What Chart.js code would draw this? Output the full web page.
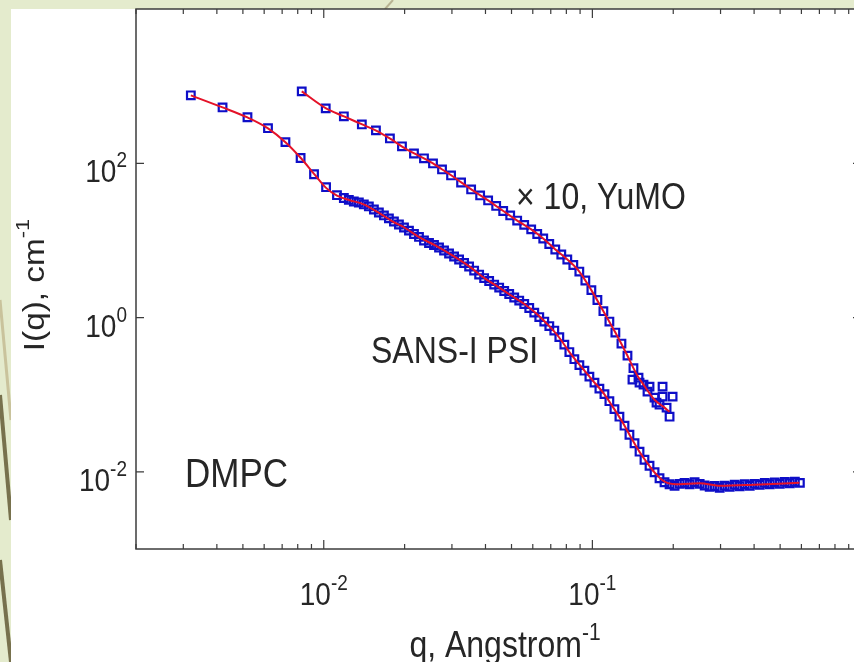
<!DOCTYPE html>
<html>
<head>
<meta charset="utf-8">
<script src="https://cdn.jsdelivr.net/npm/chart.js@4.4.0/dist/chart.umd.min.js"></script>
<style>
  html, body { margin: 0; padding: 0; }
  body { width: 854px; height: 662px; overflow: hidden; position: relative; background: #e4ebcd; }
  #deco { position: absolute; left: 0; top: 0; }
  #panel { position: absolute; left: 11px; top: 9px; width: 900px; height: 700px; background: #fff; }
  #wrap { position: absolute; left: 0; top: 0; width: 871px; height: 662px; }
</style>
</head>
<body>
<svg id="deco" width="854" height="662">
  <line x1="0" y1="300" x2="11" y2="420" stroke="#c9c39c" stroke-width="3"/>
  <line x1="0" y1="395" x2="11" y2="520" stroke="#77714d" stroke-width="4"/>
  <line x1="0" y1="560" x2="11" y2="662" stroke="#77714d" stroke-width="4"/>
  <line x1="393" y1="0" x2="385" y2="9" stroke="#b8b393" stroke-width="2"/>
</svg>
<div id="panel"></div>
<div id="wrap"><canvas id="chartCanvas" width="871" height="662"></canvas></div>
<script>
// SANS-I PSI data (q in 1/Angstrom, I in 1/cm)
var sansQ = [0.0032, 0.0042, 0.0052, 0.0062, 0.0072, 0.0082, 0.0092, 0.0102, 0.0112,
  0.01188, 0.0124, 0.01294, 0.01351, 0.0141, 0.01472, 0.01537, 0.01604, 0.01675, 0.01748,
  0.01825, 0.01905, 0.01989, 0.02076, 0.02167, 0.02262, 0.02361, 0.02465, 0.02573, 0.02686,
  0.02804, 0.02927, 0.03056, 0.0319, 0.0333, 0.03476, 0.03629, 0.03788, 0.03954, 0.04128,
  0.04309, 0.04498, 0.04696, 0.04902, 0.05117, 0.05342, 0.05576, 0.05821, 0.06077, 0.06343,
  0.06622, 0.06913, 0.07216, 0.07533, 0.07864, 0.08209, 0.08569, 0.08946, 0.09338, 0.09748,
  0.1018, 0.1062, 0.1109, 0.1157, 0.1208, 0.1261, 0.1317, 0.1374, 0.1435, 0.1498,
  0.1563, 0.1632, 0.1704, 0.1778, 0.1856, 0.1938, 0.2023, 0.2112, 0.2204, 0.2301,
  0.2402, 0.2508, 0.2618, 0.2733, 0.2853, 0.2978, 0.3109, 0.3245, 0.3388, 0.3536,
  0.3692, 0.3854, 0.4023, 0.4199, 0.4384, 0.4576, 0.4777, 0.4987, 0.5206, 0.5434,
  0.5673, 0.5922];
var sansI = [760, 530, 395, 285, 188, 117, 72, 49, 38.6,
  35.5, 33.5, 32.0, 31.0, 29.3, 27.6, 25.2, 23.0, 21.1, 19.3,
  17.6, 16.1, 14.7, 13.4, 12.1, 11.1, 9.98, 9.26, 8.72, 8.09,
  7.40, 6.77, 6.19, 5.66, 5.10, 4.59, 4.07, 3.61, 3.25, 2.98,
  2.68, 2.45, 2.21, 2.02, 1.82, 1.66, 1.50, 1.33, 1.16, 1.015,
  0.887, 0.776, 0.678, 0.558, 0.446, 0.357, 0.289, 0.242, 0.205, 0.1716,
  0.1434, 0.1199, 0.1017, 0.0825, 0.065, 0.0519, 0.0397, 0.0303, 0.0235, 0.01825,
  0.01437, 0.01201, 0.00989, 0.00827, 0.00734, 0.00690, 0.00660, 0.00700, 0.00720, 0.00690,
  0.00735, 0.00700, 0.00665, 0.00640, 0.00655, 0.00620, 0.00660, 0.00640, 0.00680, 0.00650,
  0.00690, 0.00660, 0.00700, 0.00680, 0.00720, 0.00690, 0.00730, 0.00700, 0.00740, 0.00710,
  0.00745, 0.00720];
var sansFitQ = [0.0032, 0.0042, 0.0052, 0.0062, 0.0072, 0.0082, 0.0092, 0.0102, 0.0112,
  0.0125, 0.014, 0.016, 0.018, 0.02, 0.023, 0.026, 0.03, 0.035, 0.04, 0.045, 0.05, 0.056,
  0.062, 0.068, 0.075, 0.082, 0.09, 0.1, 0.11, 0.12, 0.13, 0.14, 0.15, 0.16, 0.17, 0.18,
  0.19, 0.21, 0.25, 0.3, 0.4, 0.59];
var sansFitI = [760, 530, 393, 284, 188, 118, 73, 48, 38,
  33.2, 29.6, 22.9, 17.7, 14.6, 10.7, 8.6, 6.45, 4.55, 3.18, 2.45, 1.92, 1.49,
  1.12, 0.82, 0.56, 0.36, 0.24, 0.155, 0.105, 0.067, 0.043, 0.027, 0.018, 0.0131, 0.0099, 0.0081,
  0.0072, 0.0069, 0.0071, 0.0066, 0.0068, 0.0072];

// YuMO data, raw intensity (plotted x 10)
var yumoScale = 10;
var yumoQ = [0.00828, 0.01017, 0.01188, 0.01386, 0.01564, 0.01763, 0.01955, 0.02167, 0.02361, 0.02551,
  0.02756, 0.02978, 0.03245, 0.03537, 0.03821, 0.04092, 0.04384, 0.04656, 0.04944, 0.05249,
  0.05574, 0.05919, 0.06233, 0.06563, 0.0691, 0.07276, 0.07661, 0.08066, 0.08493, 0.08942,
  0.09415, 0.09915, 0.1044, 0.1099, 0.1157, 0.1218, 0.1283, 0.1351, 0.1422, 0.1485, 0.155,
  0.141, 0.1498, 0.1632, 0.1703, 0.1825, 0.1989, 0.1733, 0.1938, 0.1889, 0.1778, 0.1604, 0.1825];
var yumoI = [85.6, 51.5, 40.6, 31.9, 26.7, 21.0, 16.6, 13.4, 11.6, 9.96,
  8.32, 6.96, 5.64, 4.58, 3.83, 3.30, 2.80, 2.41, 2.11, 1.81,
  1.59, 1.39, 1.21, 1.06, 0.899, 0.763, 0.657, 0.566, 0.480, 0.395,
  0.302, 0.227, 0.169, 0.121, 0.0887, 0.0639, 0.0460, 0.0321, 0.0221, 0.01665, 0.01351,
  0.01568, 0.01434, 0.01272, 0.00916, 0.01272, 0.00944, 0.00789, 0.00519, 0.0068, 0.00743, 0.01096, 0.00944];
var yumoFitQ = [0.00828, 0.0102, 0.0119, 0.0139, 0.0156, 0.0176, 0.0195, 0.0217, 0.0236, 0.0255,
  0.0276, 0.0298, 0.0325, 0.0354, 0.0409, 0.0466, 0.0525, 0.0592, 0.0656, 0.0728,
  0.0807, 0.0894, 0.0991, 0.1099, 0.1218, 0.1351, 0.1422, 0.1485, 0.155, 0.1703, 0.1857, 0.1938];
var yumoFitI = [85.6, 51.5, 40.5, 31.9, 26.7, 21.0, 16.6, 13.4, 11.6, 10.0,
  8.3, 7.0, 5.65, 4.6, 3.3, 2.41, 1.81, 1.39, 1.06, 0.763,
  0.566, 0.395, 0.227, 0.121, 0.064, 0.032, 0.0221, 0.0167, 0.0135, 0.0086, 0.0068, 0.006];

// axes
var xMin = 0.002, xMax = 1, yMin = 0.001, yMax = 10000;
var xMajorTicks = [0.01, 0.1, 1];
var xMinorTicks = [0.002, 0.003, 0.004, 0.005, 0.006, 0.007, 0.008, 0.009,
  0.02, 0.03, 0.04, 0.05, 0.06, 0.07, 0.08, 0.09,
  0.2, 0.3, 0.4, 0.5, 0.6, 0.7, 0.8, 0.9];
var xLabelValues = [0.01, 0.1];
var xLabelExps = ['-2', '-1'];
var yTickValues = [0.01, 1, 100];
var yTickExps = ['-2', '0', '2'];

var fontFamily = "'Liberation Sans', Arial, Helvetica, sans-serif";
var textColor = '#262626';
var vStretch = 1.15;

function toPoints(qs, is, scale) {
  return qs.map(function (q, i) { return { x: q, y: is[i] * (scale || 1) }; });
}

function textWidth(ctx, text, size) {
  ctx.font = size + 'px ' + fontFamily;
  return ctx.measureText(text).width;
}

function drawText(ctx, text, x, y, size) {
  ctx.save();
  ctx.translate(x, y);
  ctx.scale(1, vStretch);
  ctx.font = size + 'px ' + fontFamily;
  ctx.textAlign = 'left';
  ctx.textBaseline = 'alphabetic';
  ctx.fillStyle = textColor;
  ctx.fillText(text, 0, 0);
  ctx.restore();
}

function drawPower(ctx, base, exp, x, y, size, supSize, rise, align) {
  var w1 = textWidth(ctx, base, size);
  var w2 = textWidth(ctx, exp, supSize);
  var start = x;
  if (align === 'right') start = x - w1 - w2;
  else if (align === 'center') start = x - (w1 + w2) / 2;
  drawText(ctx, base, start, y, size);
  drawText(ctx, exp, start + w1, y - rise, supSize);
}

var axesPlugin = {
  id: 'matlabAxes',
  afterDraw: function (chart) {
    var ctx = chart.ctx;
    var a = chart.chartArea;
    var xs = chart.scales.x, ys = chart.scales.y;
    ctx.save();
    ctx.strokeStyle = '#3c3c3c';
    ctx.lineWidth = 1.5;
    ctx.strokeRect(a.left, a.top, a.right - a.left, a.bottom - a.top);

    ctx.lineWidth = 1.2;
    ctx.beginPath();
    xMinorTicks.forEach(function (v) {
      var px = xs.getPixelForValue(v);
      ctx.moveTo(px, a.bottom); ctx.lineTo(px, a.bottom - 5);
      ctx.moveTo(px, a.top); ctx.lineTo(px, a.top + 5);
    });
    xMajorTicks.forEach(function (v) {
      var px = xs.getPixelForValue(v);
      ctx.moveTo(px, a.bottom); ctx.lineTo(px, a.bottom - 9);
      ctx.moveTo(px, a.top); ctx.lineTo(px, a.top + 9);
    });
    yTickValues.forEach(function (v) {
      var py = ys.getPixelForValue(v);
      ctx.moveTo(a.left, py); ctx.lineTo(a.left + 8, py);
      ctx.moveTo(a.right, py); ctx.lineTo(a.right - 8, py);
    });
    ctx.stroke();

    // tick labels
    xLabelValues.forEach(function (v, i) {
      drawPower(ctx, '10', xLabelExps[i], xs.getPixelForValue(v), a.bottom + 56, 28, 19, 15, 'center');
    });
    yTickValues.forEach(function (v, i) {
      drawPower(ctx, '10', yTickExps[i], a.left - 9, ys.getPixelForValue(v) + 19, 28, 19, 15, 'right');
    });

    // axis titles
    drawPower(ctx, 'q, Angstrom', '-1', 505, 657, 32, 21, 17, 'center');

    ctx.save();
    ctx.translate(44, 285);
    ctx.rotate(-Math.PI / 2);
    ctx.scale(vStretch, 1);
    var t1 = 'I(q), cm', t2 = '-1';
    var w1 = textWidth(ctx, t1, 29), w2 = textWidth(ctx, t2, 19);
    ctx.fillStyle = textColor;
    ctx.textBaseline = 'alphabetic';
    ctx.font = '29px ' + fontFamily;
    ctx.fillText(t1, -(w1 + w2) / 2, 0);
    ctx.font = '19px ' + fontFamily;
    ctx.fillText(t2, -(w1 + w2) / 2 + w1, -15);
    ctx.restore();

    // annotations
    drawText(ctx, '\u00d7 10, YuMO', 516, 209, 32);
    drawText(ctx, 'SANS-I PSI', 371, 363, 32);
    drawText(ctx, 'DMPC', 185, 487, 35);
    ctx.restore();
  }
};

var markerColor = 'rgb(14,14,200)';
var fitColor = 'rgb(228,18,40)';

new Chart(document.getElementById('chartCanvas'), {
  type: 'scatter',
  data: {
    datasets: [
      {
        label: 'SANS-I fit', data: toPoints(sansFitQ, sansFitI), showLine: true,
        borderColor: fitColor, borderWidth: 2, pointRadius: 0, cubicInterpolationMode: 'monotone', order: 0
      },
      {
        label: 'YuMO fit', data: toPoints(yumoFitQ, yumoFitI, yumoScale), showLine: true,
        borderColor: fitColor, borderWidth: 2, pointRadius: 0, cubicInterpolationMode: 'monotone', order: 0
      },
      {
        label: 'SANS-I PSI', data: toPoints(sansQ, sansI), showLine: false,
        pointStyle: 'rect', pointRadius: 5.4, borderColor: markerColor, borderWidth: 2.2,
        backgroundColor: 'rgba(0,0,0,0)', order: 1
      },
      {
        label: 'YuMO', data: toPoints(yumoQ, yumoI, yumoScale), showLine: false,
        pointStyle: 'rect', pointRadius: 5.4, borderColor: markerColor, borderWidth: 2.2,
        backgroundColor: 'rgba(0,0,0,0)', order: 1
      }
    ]
  },
  options: {
    responsive: false,
    animation: false,
    layout: { padding: { left: 136, right: 10, top: 9, bottom: 113 } },
    plugins: { legend: { display: false }, tooltip: { enabled: false } },
    scales: {
      x: { type: 'logarithmic', min: xMin, max: xMax, display: false },
      y: { type: 'logarithmic', min: yMin, max: yMax, display: false }
    }
  },
  plugins: [axesPlugin]
});
</script>
</body>
</html>
